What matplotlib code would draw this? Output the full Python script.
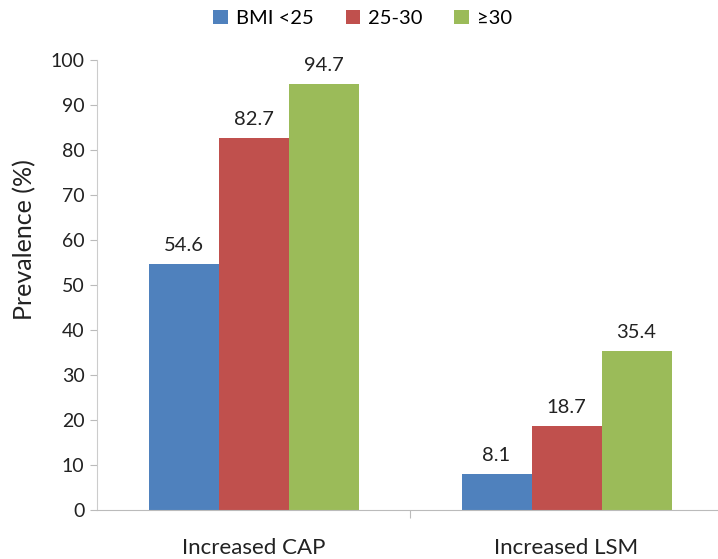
import numpy as np
import matplotlib.pyplot as plt

plt.rcParams['font.family'] = ['Lato', 'DejaVu Sans']

categories = ['Increased CAP', 'Increased LSM']
groups = ['BMI <25', '25-30', '≥30']
values = {
    'BMI <25': [54.6, 8.1],
    '25-30': [82.7, 18.7],
    '≥30': [94.7, 35.4],
}
colors = ['#4F81BD', '#C0504D', '#9BBB59']

W, H = 718, 559
fig = plt.figure(figsize=(W / 100, H / 100), dpi=100)

# axes box in pixel terms
left, right = 97, 718
bottom, top = 510, 60
ax = fig.add_axes([left / W, 1 - bottom / H, (right - left) / W, (bottom - top) / H])

cat_px = 313
x = np.arange(len(categories))
bw = 70 / cat_px

for i, (g, c) in enumerate(zip(groups, colors)):
    pos = x + (i - 1) * bw
    ax.bar(pos, values[g], width=bw, color=c, label=g)
    for xx, v in zip(pos, values[g]):
        ax.text(xx, v + 2.2, f'{v:.1f}', ha='center', va='bottom',
                fontsize=14.5, color='#222222')

ax.set_xlim(-0.5, -0.5 + (right - left) / cat_px)
ax.set_ylim(0, 100)
ax.set_yticks(np.arange(0, 101, 10))
ax.tick_params(axis='y', labelsize=14, colors='#222222', length=5,
               color='#BBBBBB', pad=4)

# category separators as major ticks, names as minor tick labels
ax.set_xticks([0.5])
ax.set_xticklabels([''])
ax.set_xticks(x, minor=True)
ax.set_xticklabels(categories, minor=True)
ax.tick_params(axis='x', which='major', length=6, color='#BBBBBB')
ax.tick_params(axis='x', which='minor', length=0, labelsize=16,
               colors='#222222', pad=20)

for s in ['top', 'right']:
    ax.spines[s].set_visible(False)
ax.spines['left'].set_color('#CCCCCC')
ax.spines['bottom'].set_color('#BBBBBB')

ax.set_ylabel('Prevalence (%)', fontsize=18, color='#222222')
ax.yaxis.set_label_coords(-0.097, 0.6)

fig.legend(loc='center', bbox_to_anchor=(0.505, 0.967), ncol=3, frameon=False,
           fontsize=14.5, handlelength=0.7, handleheight=0.7, handletextpad=0.4,
           columnspacing=1.6)

fig.savefig('out.png', dpi=100)
